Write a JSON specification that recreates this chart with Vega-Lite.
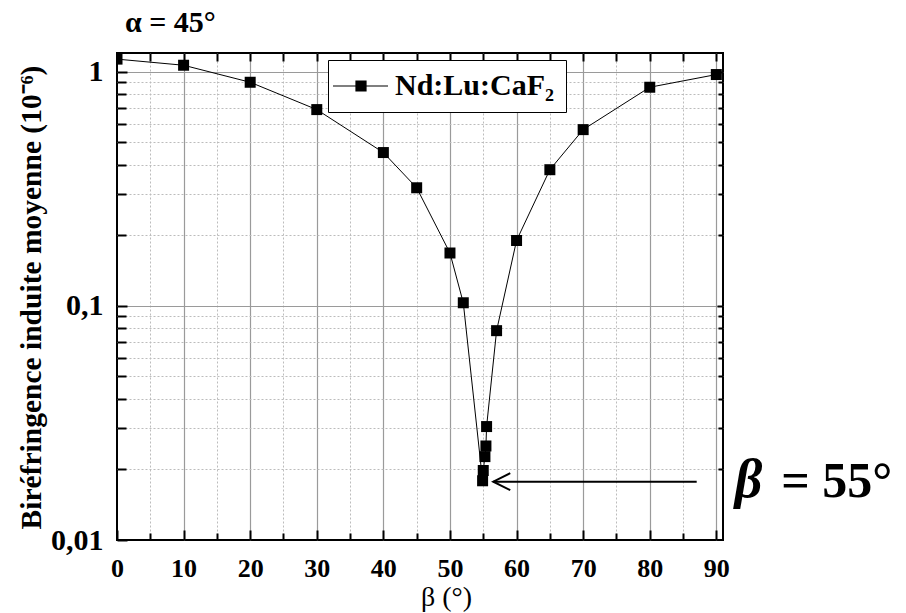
{
  "$schema": "https://vega.github.io/schema/vega-lite/v6.json",
  "width": 606,
  "height": 487,
  "autosize": "none",
  "padding": {"left": 117, "top": 53, "right": 183, "bottom": 73},
  "config": {"view": {"stroke": "black", "strokeWidth": 2}, "font": "Liberation Serif"},
  "datasets": {
    "main": [
      {"beta": 0, "value": 1.13, "series": "Nd:Lu:CaF₂"},
      {"beta": 10, "value": 1.064, "series": "Nd:Lu:CaF₂"},
      {"beta": 20, "value": 0.9, "series": "Nd:Lu:CaF₂"},
      {"beta": 30, "value": 0.688, "series": "Nd:Lu:CaF₂"},
      {"beta": 40, "value": 0.451, "series": "Nd:Lu:CaF₂"},
      {"beta": 45, "value": 0.319, "series": "Nd:Lu:CaF₂"},
      {"beta": 50, "value": 0.168, "series": "Nd:Lu:CaF₂"},
      {"beta": 52, "value": 0.103, "series": "Nd:Lu:CaF₂"},
      {"beta": 54.9, "value": 0.0179, "series": "Nd:Lu:CaF₂"},
      {"beta": 55.0, "value": 0.0198, "series": "Nd:Lu:CaF₂"},
      {"beta": 55.25, "value": 0.0227, "series": "Nd:Lu:CaF₂"},
      {"beta": 55.4, "value": 0.0252, "series": "Nd:Lu:CaF₂"},
      {"beta": 55.5, "value": 0.0305, "series": "Nd:Lu:CaF₂"},
      {"beta": 57, "value": 0.0783, "series": "Nd:Lu:CaF₂"},
      {"beta": 60, "value": 0.19, "series": "Nd:Lu:CaF₂"},
      {"beta": 65, "value": 0.381, "series": "Nd:Lu:CaF₂"},
      {"beta": 70, "value": 0.565, "series": "Nd:Lu:CaF₂"},
      {"beta": 80, "value": 0.857, "series": "Nd:Lu:CaF₂"},
      {"beta": 90, "value": 0.971, "series": "Nd:Lu:CaF₂"}
    ],
    "arrow": [{"beta": 56.5, "beta2": 87.05, "value": 0.01775}],
    "annBeta": [{"beta": 92.75, "value": 0.01527, "label": "β"}],
    "annRest": [{"beta": 99.75, "value": 0.01527, "label": "=  55°"}],
    "annTitle": [{"beta": 1.2, "value": 1.468, "label": "α = 45°"}]
  },
  "resolve": {"axis": {"x": "independent", "y": "independent"}},
  "layer": [
    {
      "data": {"name": "main"},
      "mark": {"type": "line", "color": "black", "strokeWidth": 1, "clip": true},
      "encoding": {
        "x": {"field": "beta", "type": "quantitative", "scale": {"domain": [0, 91], "nice": false, "zero": false},
          "axis": {"orient": "bottom", "values": [0, 10, 20, 30, 40, 50, 60, 70, 80, 90], "domain": false,
            "grid": true, "gridColor": {"condition": {"test": "datum.value === 0", "value": "rgba(0,0,0,0)"}, "value": "#9a9a9a"}, "gridWidth": 1.2,
            "ticks": true, "tickSize": -10, "tickColor": "black", "tickWidth": 2, "labelFlush": false, "labelOverlap": false,
            "labelFont": "Liberation Serif", "labelFontWeight": "bold", "labelFontSize": 26, "labelColor": "black", "labelPadding": 25, "labelBaseline": "top",
            "title": "β (°)", "titleFont": "Liberation Serif", "titleFontWeight": "normal", "titleFontSize": 28, "titleColor": "black",
            "titleX": 329, "titleY": 65, "titleBaseline": "alphabetic", "titleAnchor": "middle", "titleAlign": "center"}},
        "y": {"field": "value", "type": "quantitative", "scale": {"type": "log", "domain": [0.01, 1.2], "nice": false},
          "axis": {"orient": "left", "values": [0.01, 0.1, 1], "domain": false,
            "grid": true, "gridColor": {"condition": {"test": "datum.value < 0.011", "value": "rgba(0,0,0,0)"}, "value": "#9a9a9a"}, "gridWidth": 1.2,
            "ticks": true, "tickSize": -10, "tickColor": "black", "tickWidth": 2, "labelFlush": false, "labelOverlap": false,
            "labelExpr": "datum.value >= 0.5 ? '1' : (datum.value >= 0.05 ? '0,1' : '0,01')",
            "labelFont": "Liberation Serif", "labelFontWeight": "bold", "labelFontSize": 30, "labelColor": "black", "labelPadding": 24,
            "title": "Biréfringence induite moyenne (10⁻⁶)", "titleFont": "Liberation Serif", "titleFontWeight": "bold", "titleFontSize": 29.5, "titleColor": "black",
            "titleX": -86, "titleY": 244, "titleAngle": -90, "titleBaseline": "middle", "titleAlign": "center"}},
        "color": {"field": "series", "type": "nominal", "scale": {"range": ["black"]},
          "legend": {"orient": "none", "legendX": 211, "legendY": 7, "title": null, "padding": 11,
            "strokeColor": "black", "fillColor": "white",
            "symbolType": "M-4.2,0H6.8M0.4,-1H2.4V1H0.4Z", "symbolSize": 100, "symbolFillColor": "black", "symbolStrokeColor": "black", "symbolStrokeWidth": 1.2, "symbolOpacity": 1,
            "labelFont": "Liberation Serif", "labelFontWeight": "bold", "labelFontSize": 30, "labelColor": "black", "labelOffset": 26, "labelBaseline": "middle"}}
      }
    },
    {
      "data": {"name": "main"},
      "mark": {"type": "point", "shape": "square", "filled": true, "color": "black", "size": 121, "opacity": 1, "clip": true},
      "encoding": {
        "x": {"field": "beta", "type": "quantitative",
          "axis": {"orient": "bottom", "values": [5, 15, 25, 35, 45, 55, 65, 75, 85], "domain": false, "labels": false, "title": null,
            "grid": true, "gridColor": "#bcbcbc", "gridDash": [2, 2], "gridWidth": 1,
            "ticks": true, "tickSize": -7, "tickColor": "black", "tickWidth": 2}},
        "y": {"field": "value", "type": "quantitative",
          "axis": {"orient": "left", "values": [0.02, 0.03, 0.04, 0.05, 0.06, 0.07, 0.08, 0.09, 0.2, 0.3, 0.4, 0.5, 0.6, 0.7, 0.8, 0.9], "domain": false, "labels": false, "title": null,
            "grid": true, "gridColor": "#bcbcbc", "gridDash": [2, 2], "gridWidth": 1,
            "ticks": true, "tickSize": -9, "tickColor": "black", "tickWidth": 2}}
      }
    },
    {
      "data": {"name": "arrow"},
      "mark": {"type": "rule", "color": "black", "strokeWidth": 2},
      "encoding": {
        "x": {"field": "beta", "type": "quantitative",
          "axis": {"orient": "top", "values": [10, 20, 30, 40, 50, 60, 70, 80, 90], "domain": false, "labels": false, "title": null, "grid": false,
            "ticks": true, "tickSize": -8, "tickColor": "black", "tickWidth": 2}},
        "x2": {"field": "beta2"},
        "y": {"field": "value", "type": "quantitative",
          "axis": {"orient": "right", "values": [0.1, 1], "domain": false, "labels": false, "title": null, "grid": false,
            "ticks": true, "tickSize": -6, "tickColor": "black", "tickWidth": 2}}
      }
    },
    {
      "data": {"name": "arrow"},
      "mark": {"type": "point", "shape": "M2,-1L0,0L2,1", "size": 289, "filled": false, "stroke": "black", "strokeWidth": 2, "opacity": 1},
      "encoding": {
        "x": {"field": "beta", "type": "quantitative",
          "axis": {"orient": "top", "values": [5, 15, 25, 35, 45, 55, 65, 75, 85], "domain": false, "labels": false, "title": null, "grid": false,
            "ticks": true, "tickSize": -8, "tickColor": "black", "tickWidth": 2}},
        "y": {"field": "value", "type": "quantitative",
          "axis": {"orient": "right", "values": [0.02, 0.03, 0.04, 0.05, 0.06, 0.07, 0.08, 0.09, 0.2, 0.3, 0.4, 0.5, 0.6, 0.7, 0.8, 0.9], "domain": false, "labels": false, "title": null, "grid": false,
            "ticks": true, "tickSize": -5, "tickColor": "black", "tickWidth": 2}}
      }
    },
    {
      "data": {"name": "annBeta"},
      "mark": {"type": "text", "font": "Liberation Serif", "fontWeight": "bold", "fontStyle": "italic", "fontSize": 54, "align": "left", "baseline": "alphabetic", "color": "black"},
      "encoding": {
        "x": {"field": "beta", "type": "quantitative", "axis": null},
        "y": {"field": "value", "type": "quantitative", "axis": null},
        "text": {"field": "label"}
      }
    },
    {
      "data": {"name": "annRest"},
      "mark": {"type": "text", "font": "Liberation Serif", "fontWeight": "bold", "fontSize": 50, "align": "left", "baseline": "alphabetic", "color": "black"},
      "encoding": {
        "x": {"field": "beta", "type": "quantitative", "axis": null},
        "y": {"field": "value", "type": "quantitative", "axis": null},
        "text": {"field": "label"}
      }
    },
    {
      "data": {"name": "annTitle"},
      "mark": {"type": "text", "font": "Liberation Serif", "fontWeight": "bold", "fontSize": 30, "align": "left", "baseline": "alphabetic", "color": "black"},
      "encoding": {
        "x": {"field": "beta", "type": "quantitative", "axis": null},
        "y": {"field": "value", "type": "quantitative", "axis": null},
        "text": {"field": "label"}
      }
    }
  ]
}
